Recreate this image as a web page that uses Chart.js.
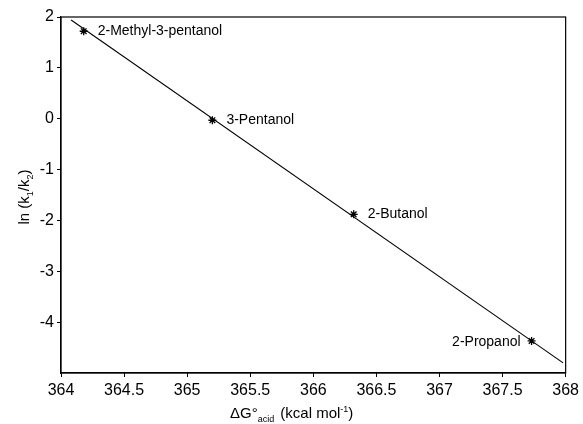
<!DOCTYPE html>
<html>
<head>
<meta charset="utf-8">
<script src="https://cdn.jsdelivr.net/npm/chart.js@4/dist/chart.umd.min.js"></script>
<style>
  html, body { margin: 0; padding: 0; background: #fff; }
  #wrap { width: 583px; height: 424px; }
</style>
</head>
<body>
<div id="wrap"><canvas id="chart"></canvas></div>
<script>
// alcohols and their values
const names = ["2-Methyl-3-pentanol", "3-Pentanol", "2-Butanol", "2-Propanol"];
const dG = [364.18, 365.2, 366.32, 367.73];
const lnK = [1.72, -0.03, -1.88, -4.37];
const labelSide = ["right", "right", "right", "left"];

// fitted line ends
const fitX = [364.08, 367.98];
const fitY = [1.94, -4.8];

const xTicks = [364, 364.5, 365, 365.5, 366, 366.5, 367, 367.5, 368];
const yTicks = [2, 1, 0, -1, -2, -3, -4];

const FONT = "'Liberation Sans', Arial, sans-serif";

// frame + point names + axis titles
const extras = {
    id: "extras",
    afterDraw(chart) {
        const ctx = chart.ctx;
        const a = chart.chartArea;
        const xs = chart.scales.x, ys = chart.scales.y;
        ctx.save();
        ctx.strokeStyle = "#000";
        ctx.lineWidth = 1.2;
        ctx.strokeRect(a.left, a.top, a.right - a.left, a.bottom - a.top);

        ctx.fillStyle = "#000";
        ctx.font = "14px " + FONT;
        ctx.textBaseline = "middle";
        names.forEach((n, i) => {
            const px = xs.getPixelForValue(dG[i]);
            const py = ys.getPixelForValue(lnK[i]);
            if (labelSide[i] === "left") {
                ctx.textAlign = "right";
                ctx.fillText(n, px - 11, py + 1);
            } else {
                ctx.textAlign = "left";
                ctx.fillText(n, px + 14, py);
            }
        });

        // x title: ΔG°acid (kcal mol-1)
        ctx.textAlign = "left";
        ctx.textBaseline = "alphabetic";
        let x = 230, y = 418;
        ctx.font = "15px " + FONT;
        ctx.fillText("\u0394G\u00B0", x, y);
        x += ctx.measureText("\u0394G\u00B0").width;
        ctx.font = "9px " + FONT;
        ctx.fillText("acid", x, y + 4);
        x += ctx.measureText("acid").width + 2;
        ctx.font = "15px " + FONT;
        ctx.fillText(" (kcal mol", x, y);
        x += ctx.measureText(" (kcal mol").width;
        ctx.font = "9px " + FONT;
        ctx.fillText("-1", x, y - 6);
        x += ctx.measureText("-1").width;
        ctx.font = "15px " + FONT;
        ctx.fillText(")", x, y);

        // y title: ln (k1/k2)
        ctx.translate(24, 197);
        ctx.rotate(-Math.PI / 2);
        const parts = [["ln (k", 15, 0], ["1", 9, 4], ["/k", 15, 0], ["2", 9, 4], [")", 15, 0]];
        let w = 0;
        parts.forEach(p => { ctx.font = p[1] + "px " + FONT; w += ctx.measureText(p[0]).width; });
        let cx = -w / 2;
        parts.forEach(p => {
            ctx.font = p[1] + "px " + FONT;
            ctx.fillText(p[0], cx, 5 + p[2]);
            cx += ctx.measureText(p[0]).width;
        });
        ctx.restore();
    }
};

new Chart(document.getElementById("chart"), {
    type: "scatter",
    data: {
        datasets: [
            {
                data: dG.map((v, i) => ({ x: v, y: lnK[i] })),
                pointStyle: "star",
                pointRadius: 4,
                borderColor: "#000",
                borderWidth: 1.3,
                showLine: false
            },
            {
                data: fitX.map((v, i) => ({ x: v, y: fitY[i] })),
                showLine: true,
                borderColor: "#000",
                borderWidth: 1.1,
                pointRadius: 0
            }
        ]
    },
    options: {
        responsive: true,
        maintainAspectRatio: false,
        animation: false,
        layout: { padding: { top: 17, right: 17, left: 0, bottom: 0 } },
        plugins: { legend: { display: false }, tooltip: { enabled: false } },
        scales: {
            x: {
                type: "linear",
                min: 364, max: 368,
                afterBuildTicks: s => { s.ticks = xTicks.map(v => ({ value: v })); },
                afterFit: s => { s.height = 51; },
                grid: { drawOnChartArea: false, tickLength: 4, color: "#000" },
                border: { color: "#000", width: 1.2 },
                ticks: { color: "#000", font: { family: FONT, size: 16 }, padding: 4, maxRotation: 0,
                         callback: v => String(v) }
            },
            y: {
                type: "linear",
                min: -5, max: 2,
                afterBuildTicks: s => { s.ticks = yTicks.map(v => ({ value: v })); },
                afterFit: s => { s.width = 61; },
                grid: { drawOnChartArea: false, tickLength: 4, color: "#000" },
                border: { color: "#000", width: 1.2 },
                ticks: { color: "#000", font: { family: FONT, size: 16 }, padding: 3,
                         callback: v => String(v) }
            }
        }
    },
    plugins: [extras]
});
</script>
</body>
</html>
